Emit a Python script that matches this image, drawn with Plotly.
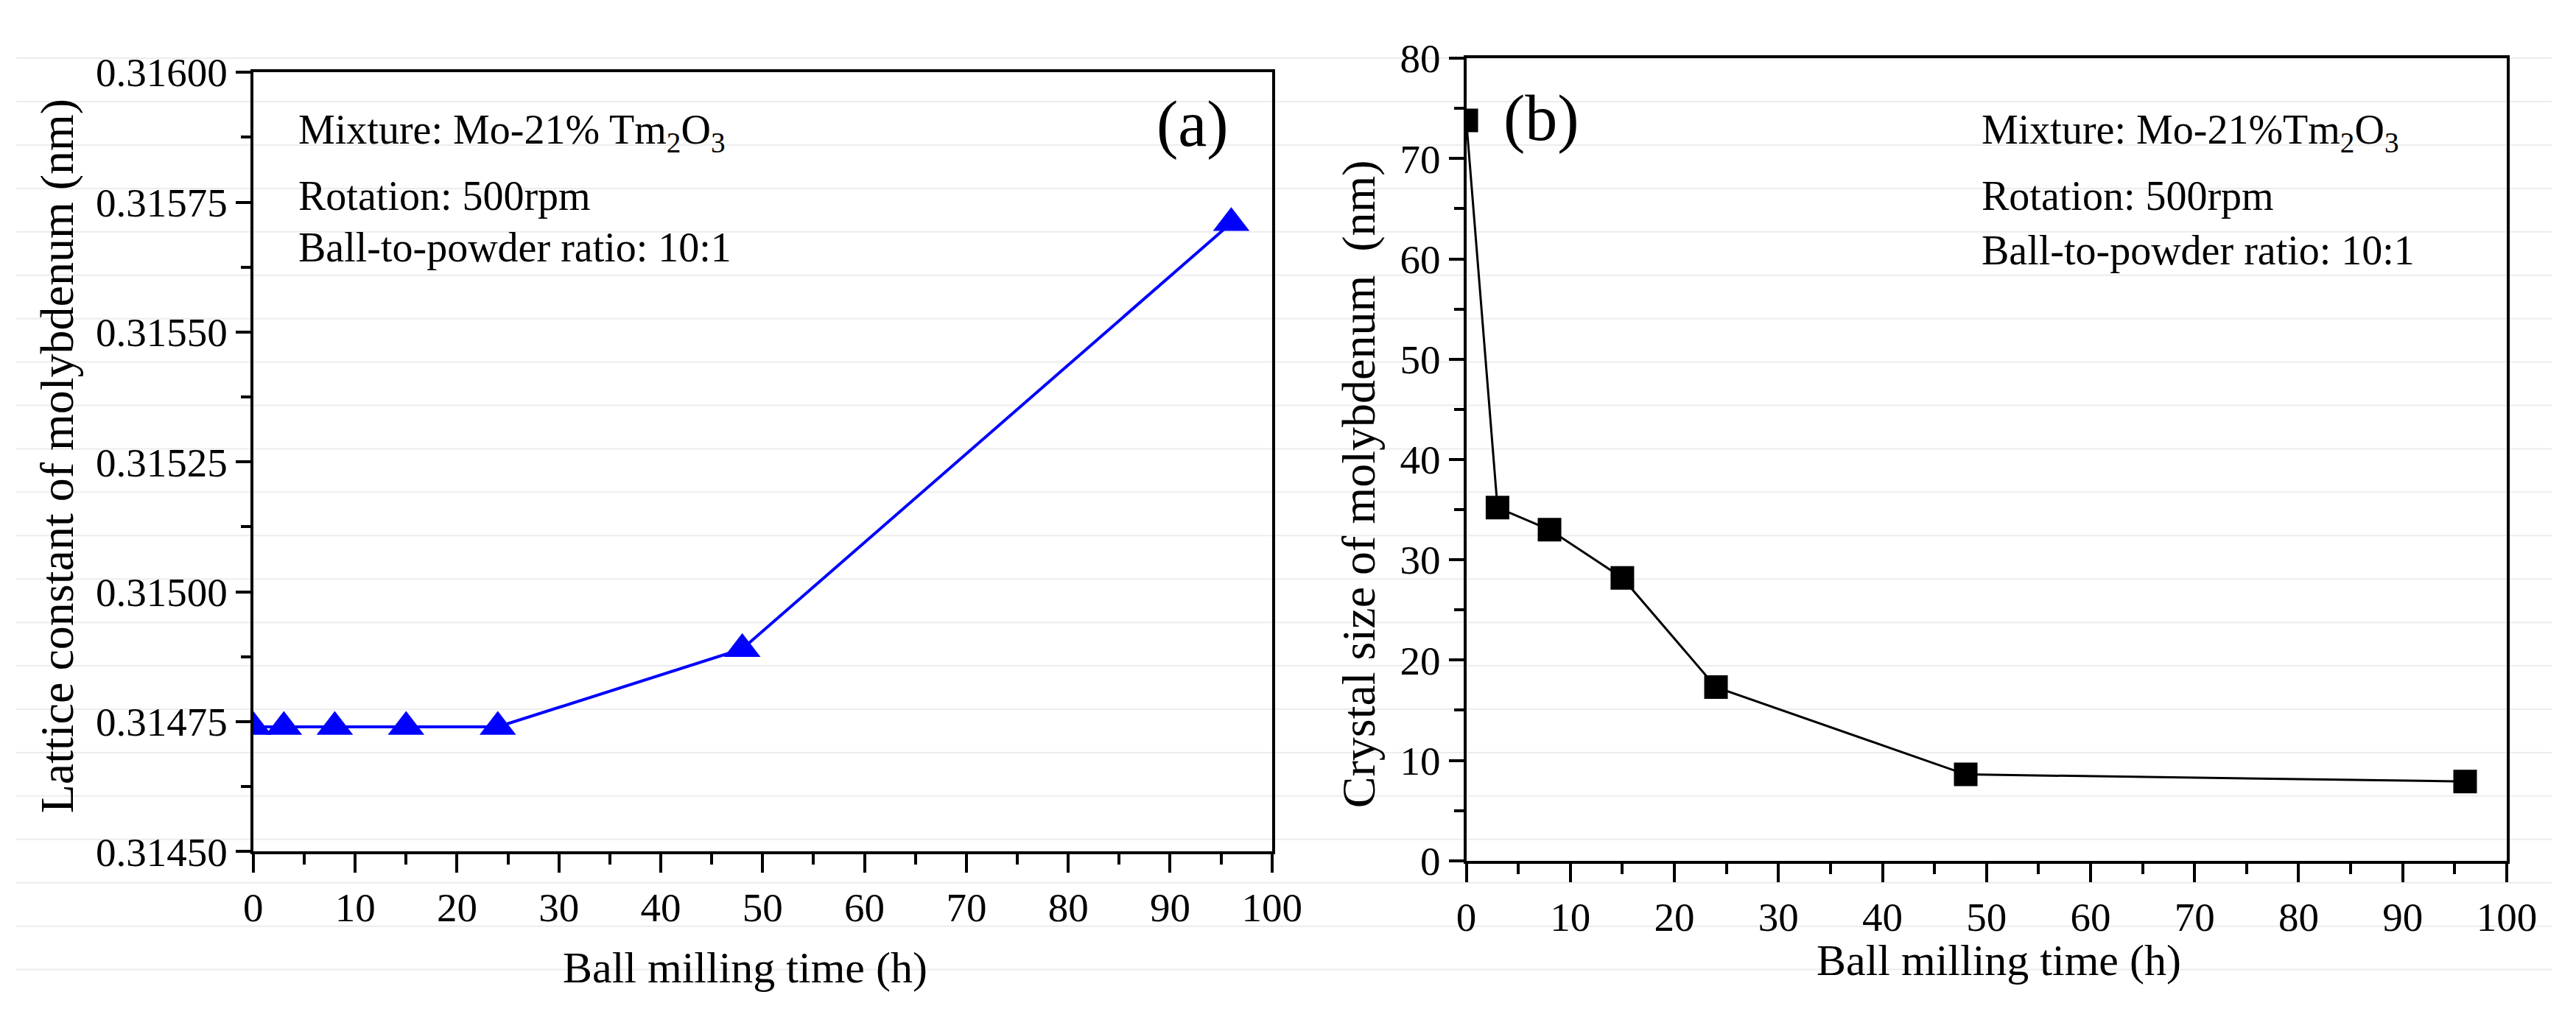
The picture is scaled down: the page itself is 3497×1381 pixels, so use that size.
import plotly.graph_objects as go

# ---------------- data ----------------
milling_time_h = [0, 3, 8, 15, 24, 48, 96]
lattice_constant_nm = [0.31474, 0.31474, 0.31474, 0.31474, 0.31474, 0.31489, 0.31571]
crystal_size_nm = [73.8, 35.2, 33.0, 28.2, 17.3, 8.6, 7.9]

x_ticks = [0, 10, 20, 30, 40, 50, 60, 70, 80, 90, 100]
lattice_ticks = [0.31450, 0.31475, 0.31500, 0.31525, 0.31550, 0.31575, 0.31600]
size_ticks = [0, 10, 20, 30, 40, 50, 60, 70, 80]

info_left = ["Mixture: Mo-21% Tm<sub>2</sub>O<sub>3</sub>", "Rotation: 500rpm", "Ball-to-powder ratio: 10:1"]
info_right = ["Mixture: Mo-21%Tm<sub>2</sub>O<sub>3</sub>", "Rotation: 500rpm", "Ball-to-powder ratio: 10:1"]

# ---------------- layout helpers ----------------
W, H = 3497, 1381
FONT = "Times New Roman, Liberation Serif, serif"


def fx(p):
    return p / W


def fy(p):
    return 1 - p / H


fig = go.Figure()

fig.add_trace(go.Scatter(
    x=milling_time_h, y=lattice_constant_nm, mode="lines+markers",
    line=dict(color="#0000FF", width=4),
    marker=dict(symbol="triangle-up", size=43, color="#0000FF"),
    xaxis="x", yaxis="y", showlegend=False,
))

fig.add_trace(go.Scatter(
    x=milling_time_h, y=crystal_size_nm, mode="lines+markers",
    line=dict(color="black", width=3),
    marker=dict(symbol="square", size=32, color="black"),
    xaxis="x2", yaxis="y2", showlegend=False,
))

tickfont = dict(family=FONT, size=55, color="black")


def axis_common(ticklen, minor_dtick, minor_len):
    return dict(
        showline=True, linewidth=4, linecolor="black", mirror=True,
        ticks="outside", ticklen=ticklen, tickwidth=3.5, tickcolor="black",
        showgrid=False, zeroline=False, tickfont=tickfont,
        minor=dict(ticks="outside", ticklen=minor_len, tickwidth=3.5,
                   tickcolor="black", dtick=minor_dtick, showgrid=False),
    )


fig.update_layout(
    width=W, height=H,
    margin=dict(l=0, r=0, t=0, b=0),
    paper_bgcolor="white", plot_bgcolor="rgba(0,0,0,0)",
    showlegend=False,
    xaxis=dict(domain=[fx(327), fx(1732)], range=[0, 100], tickvals=x_ticks,
               anchor="y", **axis_common(25, 5, 14)),
    yaxis=dict(domain=[fy(1170), fy(63)], range=[0.3145, 0.316], tickvals=lattice_ticks,
               tickformat=".5f", anchor="x", **axis_common(20, 0.000125, 13)),
    xaxis2=dict(domain=[fx(2000), fx(3435)], range=[0, 100], tickvals=x_ticks,
                anchor="y2", **axis_common(25, 5, 14)),
    yaxis2=dict(domain=[fy(1183), fy(43)], range=[0, 80], tickvals=size_ticks,
                anchor="x2", **axis_common(20, 5, 13)),
)

# faint horizontal background rules seen across the picture
shapes = []
for k in range(22):
    yy = 43 + 61.65 * k
    shapes.append(dict(type="line", xref="paper", yref="paper", x0=0, x1=1,
                       y0=fy(yy), y1=fy(yy), layer="below",
                       line=dict(color="#ececec", width=2)))
fig.update_layout(shapes=shapes)

ann = []


def add_text(text, x, y, size, xanchor="center", yanchor="middle", angle=0):
    ann.append(dict(text=text, x=fx(x), y=fy(y), xref="paper", yref="paper",
                    xanchor=xanchor, yanchor=yanchor, showarrow=False, textangle=angle,
                    font=dict(family=FONT, size=size, color="black")))


# axis titles
add_text("Lattice constant of molybdenum (nm)", 56, 608, 64, angle=-90)
add_text("Ball milling time (h)", 1005, 1335, 60)
add_text("Crystal size of molybdenum  (nm)", 1851, 648, 64, angle=-90)
add_text("Ball milling time (h)", 2735, 1325, 60)

# panel labels
add_text("(a)", 1623, 137, 88)
add_text("(b)", 2104, 128, 88)

# info text
for txt, yy in zip(info_left, [149, 239, 312]):
    add_text(txt, 387, yy, 56, xanchor="left")
for txt, yy in zip(info_right, [149, 239, 316]):
    add_text(txt, 2709, yy, 56, xanchor="left")

fig.update_layout(annotations=ann)

fig.write_html("out.html")
